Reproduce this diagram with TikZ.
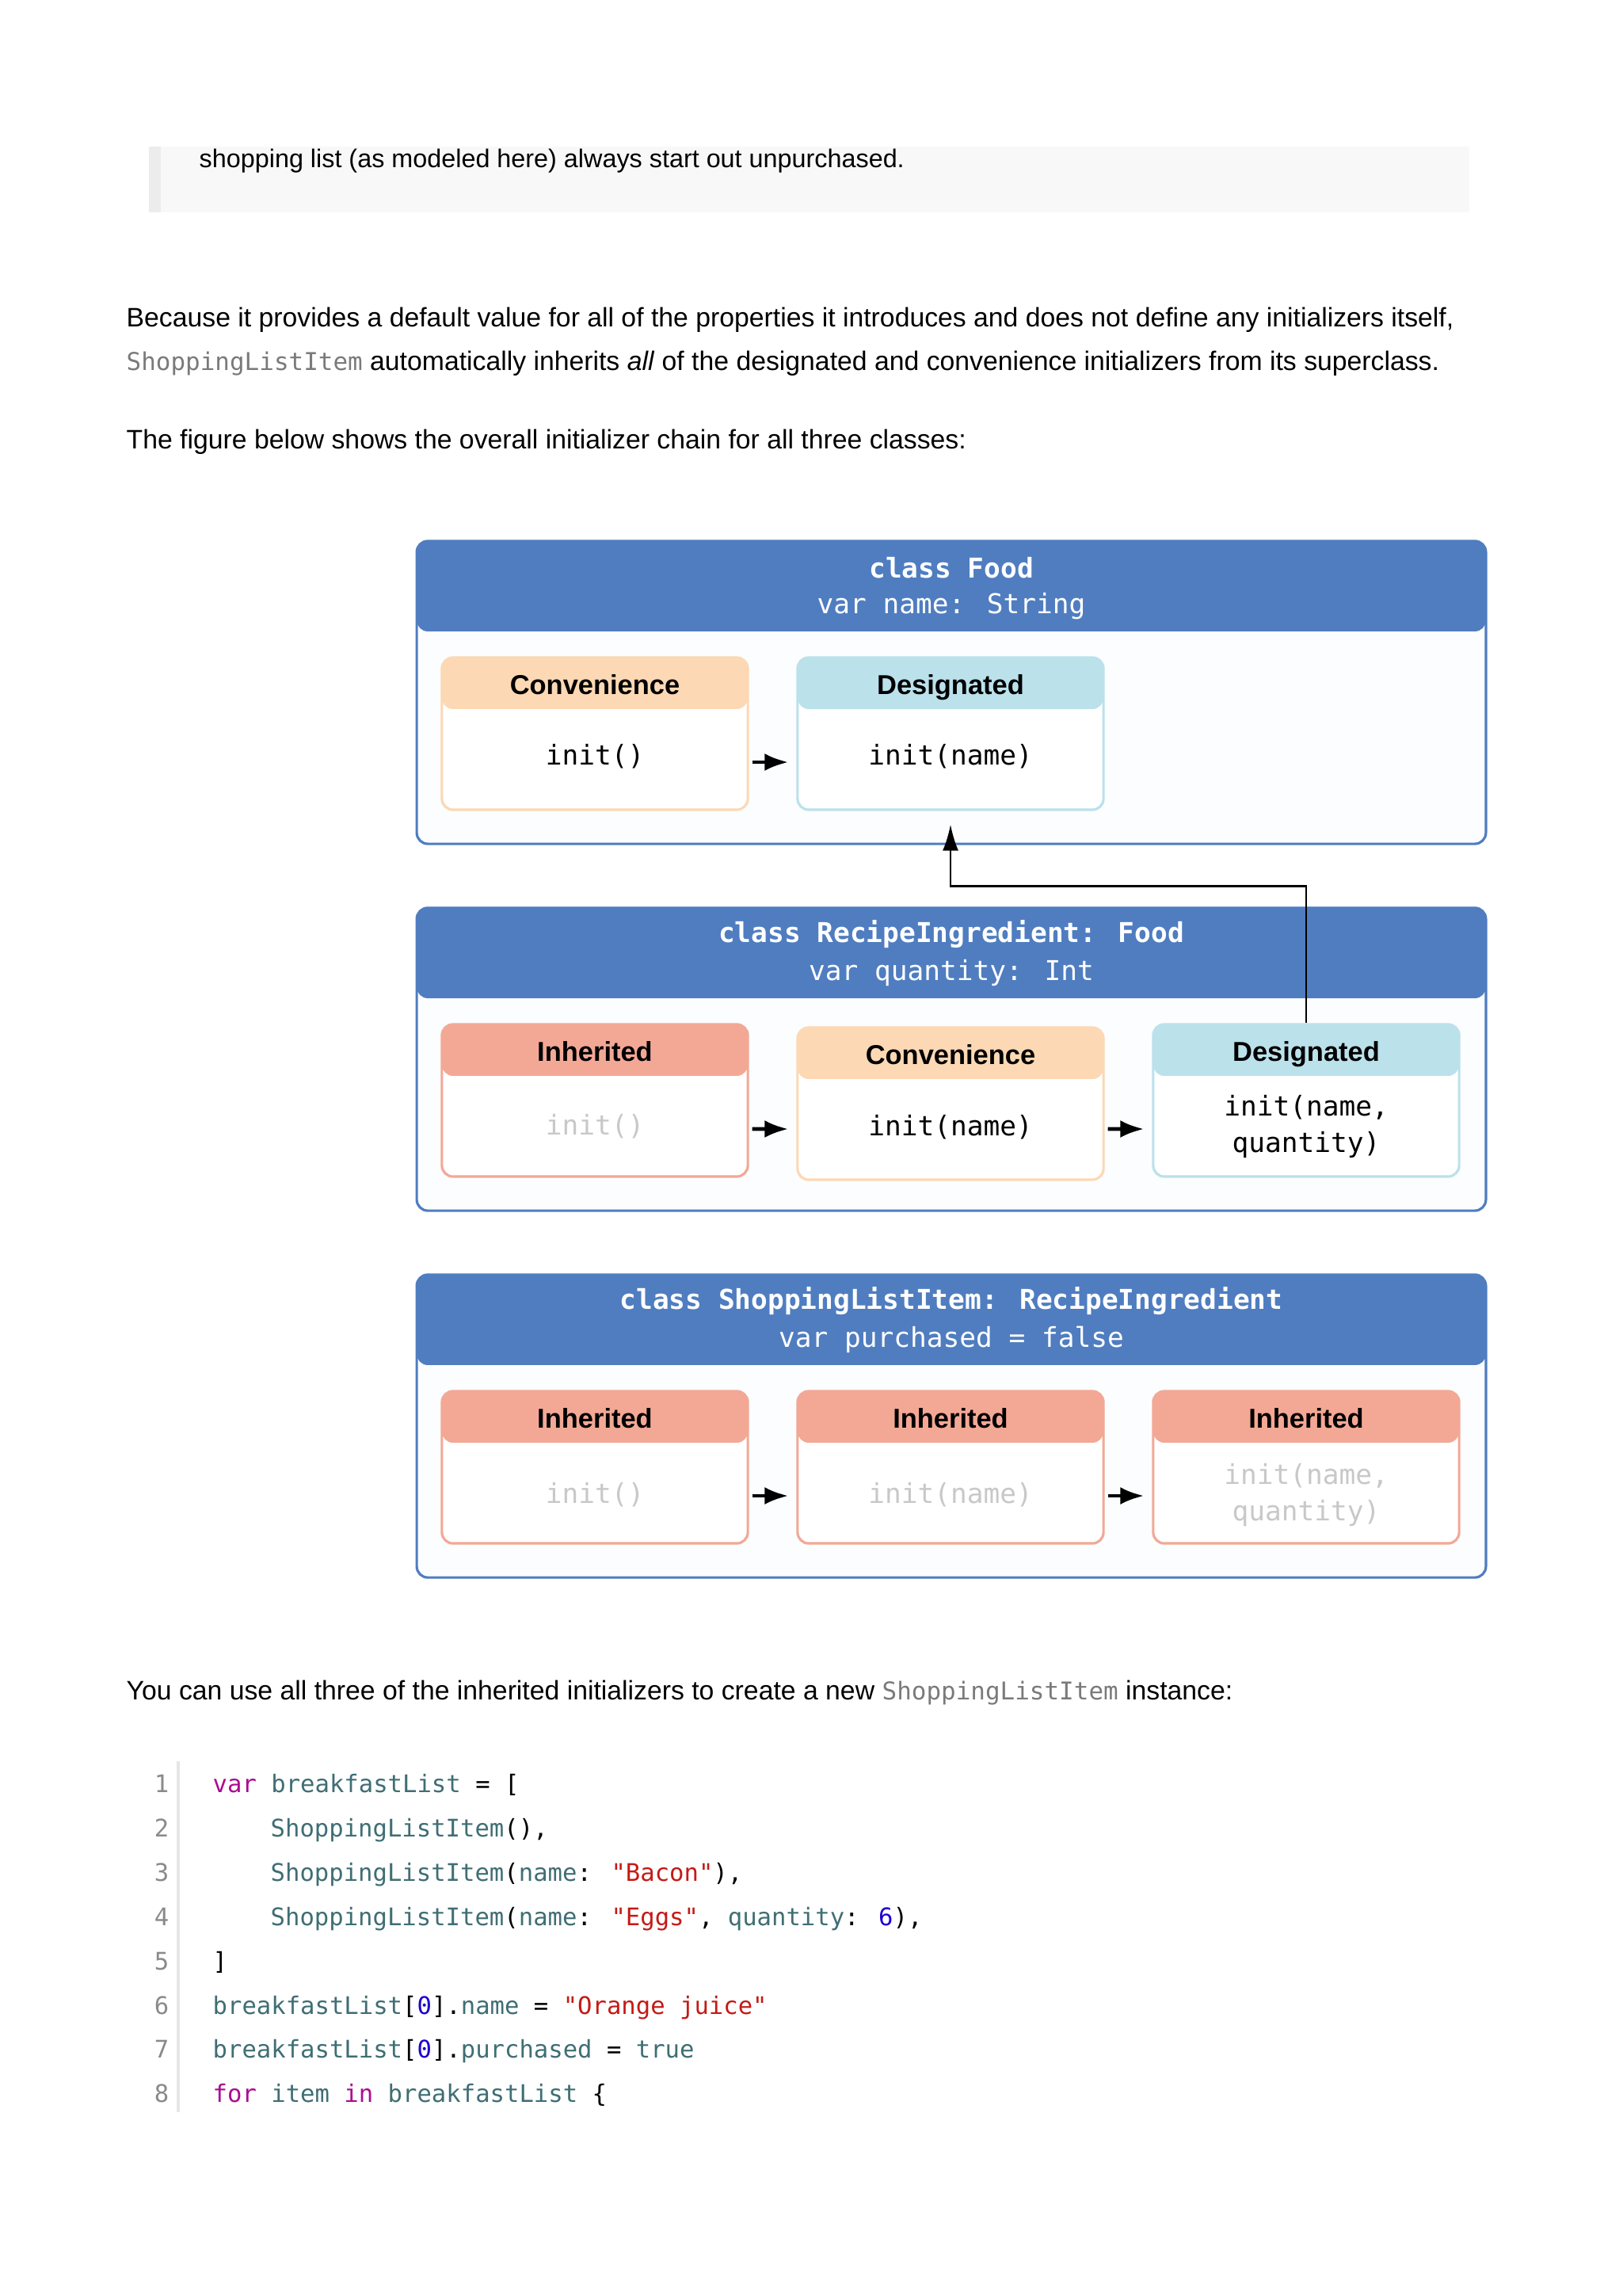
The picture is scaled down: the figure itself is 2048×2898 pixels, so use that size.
\documentclass[tikz,border=0pt]{standalone}
\usepackage{fontspec}
\setmainfont{Liberation Sans}
\newfontfamily\codefont{DejaVu Sans Mono}
\usetikzlibrary{arrows.meta}

\definecolor{classblue}{HTML}{4F7DC0}
\definecolor{convhead}{HTML}{FCD8B4}
\definecolor{desighead}{HTML}{BBE1EB}
\definecolor{inherhead}{HTML}{F3A895}
\definecolor{boxbody}{HTML}{FBFDFE}
\definecolor{notegray}{HTML}{F8F8F8}
\definecolor{notebar}{HTML}{ECECEC}
\definecolor{inlinegray}{HTML}{7A7A7A}
\definecolor{fadedtext}{HTML}{C8C8C8}
\definecolor{kwcolor}{HTML}{AA0D91}
\definecolor{idcolor}{HTML}{3F6E74}
\definecolor{strcolor}{HTML}{C41A16}
\definecolor{numcolor}{HTML}{1C00CF}
\definecolor{linenum}{HTML}{8A8A8A}
\definecolor{codebar}{HTML}{E6E6E6}

\newcommand{\ckw}[1]{\textcolor{kwcolor}{#1}}
\newcommand{\cid}[1]{\textcolor{idcolor}{#1}}
\newcommand{\cstr}[1]{\textcolor{strcolor}{#1}}
\newcommand{\cnum}[1]{\textcolor{numcolor}{#1}}

\begin{document}
\begin{tikzpicture}[x=0.01cm, y=-0.01cm,
    prose/.style={anchor=base west, inner sep=0pt, font=\fontsize{9.6}{12}\selectfont},
    codeline/.style={anchor=base west, inner sep=0pt, font=\codefont\fontsize{8.7}{11}\selectfont},
    lineno/.style={anchor=base east, inner sep=0pt, text=linenum, font=\codefont\fontsize{8.7}{11}\selectfont},
    classbox/.style={draw=classblue, line width=0.9pt, rounded corners=0.14cm, fill=boxbody,
        minimum width=13.49cm, minimum height=3.82cm, inner sep=0pt,
        path picture={\fill[classblue] (path picture bounding box.north west) rectangle ([yshift=-1.14cm]path picture bounding box.north east);}},
    classtitle/.style={text=white, inner sep=0pt, font=\codefont\bfseries\fontsize{9.8}{12}\selectfont},
    classvar/.style={text=white, inner sep=0pt, font=\codefont\fontsize{9.8}{12}\selectfont},
    initbox/.style={draw=#1, line width=0.9pt, rounded corners=0.14cm, fill=white,
        minimum width=3.86cm, minimum height=1.92cm, inner sep=0pt,
        path picture={\fill[#1] (path picture bounding box.north west) rectangle ([yshift=-0.65cm]path picture bounding box.north east);}},
    headtxt/.style={inner sep=0pt, text height=0.72em, text depth=0.2em, font=\bfseries\fontsize{9.8}{12}\selectfont},
    inittxt/.style={inner sep=0pt, align=center, font=\codefont\fontsize{9.8}{13}\selectfont},
    fadedinit/.style={inittxt, text=fadedtext},
    chain/.style={line width=1.3pt, -{Latex[length=0.3cm,width=0.22cm]}, shorten <=0.04cm, shorten >=0.1cm},
    link/.style={line width=0.8pt, -{Latex[length=0.33cm,width=0.2cm]}}
  ]
  \useasboundingbox (0,0) rectangle (2048,2898);

  % note block at the top
  \fill[notegray] (188,185) rectangle (1855,268);
  \fill[notebar] (188,185) rectangle (203,268);
  \node[prose, font=\fontsize{9.2}{12}\selectfont] (note) at (251,212) {shopping list (as modeled here) always start out unpurchased.};

  \node[prose] (para1) at (159,413) {Because it provides a default value for all of the properties it introduces and does not define any initializers itself,};
  \node[prose] (para2) at (159,468) {{\codefont\fontsize{8.8}{11}\selectfont\textcolor{inlinegray}{ShoppingListItem}} automatically inherits \textit{all} of the designated and convenience initializers from its superclass.};
  \node[prose] (para3) at (159,567) {The figure below shows the overall initializer chain for all three classes:};

  % class Food
  \node[classbox] (food) at (1201,874) {};
  \node[classtitle] (foodtitle) at ([yshift=-0.35cm]food.north) {class Food};
  \node[classvar] (foodvar) at ([yshift=-0.84cm]food.north) {var name: String};

  \node[initbox=convhead] (fconv) at (751,926) {};
  \node[initbox=desighead] (fdes) at (1200,926) {};
  \node[headtxt] at ([yshift=-0.385cm]fconv.north) {Convenience};
  \node[headtxt] at ([yshift=-0.385cm]fdes.north) {Designated};
  \node[inittxt] at ([yshift=-0.29cm]fconv.center) {init()};
  \node[inittxt] at ([yshift=-0.29cm]fdes.center) {init(name)};
  \draw[chain] ([yshift=-0.36cm]fconv.east) -- ([yshift=-0.36cm]fdes.west);

  % class RecipeIngredient
  \node[classbox] (recipe) at (1201,1337) {};
  \node[classtitle] (recipetitle) at ([yshift=-0.35cm]recipe.north) {class RecipeIngredient: Food};
  \node[classvar] (recipevar) at ([yshift=-0.84cm]recipe.north) {var quantity: Int};

  \node[initbox=inherhead] (rinh) at (751,1389) {};
  \node[initbox=convhead] (rconv) at (1200,1393) {};
  \node[initbox=desighead] (rdes) at (1649,1389) {};
  \node[headtxt] at ([yshift=-0.385cm]rinh.north) {Inherited};
  \node[headtxt] at ([yshift=-0.385cm]rconv.north) {Convenience};
  \node[headtxt] at ([yshift=-0.385cm]rdes.north) {Designated};
  \node[fadedinit] at ([yshift=-0.33cm]rinh.center) {init()};
  \node[inittxt] at ([yshift=-0.3cm]rconv.center) {init(name)};
  \node[inittxt] at ([yshift=-0.33cm]rdes.center) {init(name,\\quantity)};
  \draw[chain] ([yshift=-0.36cm]rinh.east) -- ([yshift=-0.32cm]rconv.west);
  \draw[chain] ([yshift=-0.32cm]rconv.east) -- ([yshift=-0.36cm]rdes.west);

  % class ShoppingListItem
  \node[classbox] (shopping) at (1201,1800) {};
  \node[classtitle] (shoppingtitle) at ([yshift=-0.35cm]shopping.north) {class ShoppingListItem: RecipeIngredient};
  \node[classvar] (shoppingvar) at ([yshift=-0.84cm]shopping.north) {var purchased = false};

  \node[initbox=inherhead] (sinh) at (751,1852) {};
  \node[initbox=inherhead] (sinhname) at (1200,1852) {};
  \node[initbox=inherhead] (sinhfull) at (1649,1852) {};
  \node[headtxt] at ([yshift=-0.385cm]sinh.north) {Inherited};
  \node[headtxt] at ([yshift=-0.385cm]sinhname.north) {Inherited};
  \node[headtxt] at ([yshift=-0.385cm]sinhfull.north) {Inherited};
  \node[fadedinit] at ([yshift=-0.35cm]sinh.center) {init()};
  \node[fadedinit] at ([yshift=-0.35cm]sinhname.center) {init(name)};
  \node[fadedinit] at ([yshift=-0.35cm]sinhfull.center) {init(name,\\quantity)};
  \draw[chain] ([yshift=-0.36cm]sinh.east) -- ([yshift=-0.36cm]sinhname.west);
  \draw[chain] ([yshift=-0.36cm]sinhname.east) -- ([yshift=-0.36cm]sinhfull.west);

  % delegation up to the superclass
  \draw[link] (rdes.north) -- ++(0,-173) -| ([yshift=-0.17cm]fdes.south);

  \node[prose] (para4) at (159,2145) {You can use all three of the inherited initializers to create a new {\codefont\fontsize{8.8}{11}\selectfont\textcolor{inlinegray}{ShoppingListItem}} instance:};

  % code listing
  \draw[codebar, line width=1.1pt] (225,2223) -- (225,2666);
  \node[lineno] at (214,2262) {1};
  \node[lineno] at (214,2318) {2};
  \node[lineno] at (214,2374) {3};
  \node[lineno] at (214,2430) {4};
  \node[lineno] at (214,2486) {5};
  \node[lineno] at (214,2542) {6};
  \node[lineno] at (214,2597) {7};
  \node[lineno] at (214,2653) {8};
  \node[codeline] (code1) at (268,2262) {\ckw{var} \cid{breakfastList} = [};
  \node[codeline] (code2) at (341,2318) {\cid{ShoppingListItem}(),};
  \node[codeline] (code3) at (341,2374) {\cid{ShoppingListItem}(\cid{name}: \cstr{"Bacon"}),};
  \node[codeline] (code4) at (341,2430) {\cid{ShoppingListItem}(\cid{name}: \cstr{"Eggs"}, \cid{quantity}: \cnum{6}),};
  \node[codeline] (code5) at (268,2486) {]};
  \node[codeline] (code6) at (268,2542) {\cid{breakfastList}[\cnum{0}].\cid{name} = \cstr{"Orange juice"}};
  \node[codeline] (code7) at (268,2597) {\cid{breakfastList}[\cnum{0}].\cid{purchased} = \cid{true}};
  \node[codeline] (code8) at (268,2653) {\ckw{for} \cid{item} \ckw{in} \cid{breakfastList} \{};
\end{tikzpicture}
\end{document}
